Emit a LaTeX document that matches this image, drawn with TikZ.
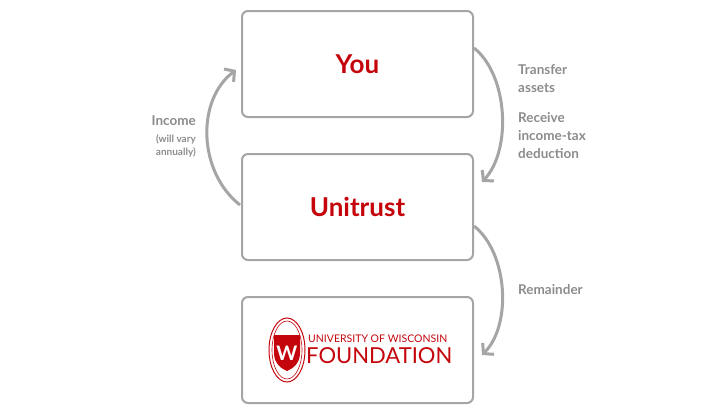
\documentclass[tikz,border=0pt]{standalone}
\usepackage{fontspec}
\setmainfont{Lato}
\usetikzlibrary{arrows.meta,shapes.geometric}
\definecolor{uwred}{HTML}{C5050C}
\definecolor{gr}{HTML}{A5A5A5}
\definecolor{lab}{HTML}{8C8C8C}
\tikzset{
 box/.style={draw=gr,line width=2pt,rounded corners=6pt,minimum width=231pt,minimum height=106pt,anchor=north west},
 conn/.style={draw=gr,line width=3pt,-{Straight Barb[length=7pt,width=16pt]}},
 lbl/.style={text=lab,font=\fontsize{13.5}{18}\selectfont\bfseries,align=left,anchor=north west,inner sep=0pt},
}
\begin{document}
\begin{tikzpicture}[x=1pt,y=-1pt]
\useasboundingbox (0,0) rectangle (718,408);
\node[box] (you) at (241,10) {};
\node[box] (uni) at (241,153) {};
\node[box] (uwf) at (241,296) {};
\node[text=uwred,font=\fontsize{26}{28}\selectfont\bfseries] (youT) at (you.center) {You};
\node[text=uwred,font=\fontsize{26}{28}\selectfont\bfseries] (uniT) at (uni.center) {Unitrust};
% logo
\node[draw=uwred,line width=1pt,ellipse,minimum width=36pt,minimum height=64pt,inner sep=0pt] (crest) at (287,350) {};
\node[draw=uwred,line width=0.6pt,ellipse,minimum width=30pt,minimum height=58pt,inner sep=0pt] (crestin) at (287,350) {};
\path[fill=uwred] (274,335) -- (300,335) -- (300,353) .. controls (300,364) and (292,369) .. (287,371) .. controls (282,369) and (274,364) .. (274,353) -- cycle;
\node[text=white,font=\fontsize{20}{20}\selectfont\bfseries\rmfamily] (w) at (287,353) {W};
\node[text=uwred,font=\fontsize{10.5}{12}\selectfont,anchor=west,inner sep=0pt] (uw1) at (308,339) {UNIVERSITY OF WISCONSIN};
\node[text=uwred,font=\fontsize{22}{24}\selectfont,anchor=west,inner sep=0pt] (uw2) at (306,356) {FOUNDATION};
% connectors
\coordinate (a1) at (474,48);
\coordinate (a2) at (482,182);
\draw[conn] (a1) .. controls (508,75) and (512,150) .. (a2);
\coordinate (b1) at (240,205);
\coordinate (b2) at (236,70);
\draw[conn] (b1) .. controls (198,172) and (196,100) .. (b2);
\coordinate (c1) at (474,226);
\coordinate (c2) at (482,355);
\draw[conn] (c1) .. controls (508,253) and (512,325) .. (c2);
% labels
\node[lbl] (t1) at (518,64) {Transfer\\assets};
\node[lbl] (t2) at (518,112) {Receive\\income-tax\\deduction};
\node[lbl] (t3) at (518,284) {Remainder};
\node[lbl,anchor=north east,align=right] (t4) at (196,116) {Income};
\node[lbl,anchor=north east,align=right,font=\fontsize{10}{13}\selectfont\bfseries] (t5) at (196,134) {(will vary\\annually)};
\end{tikzpicture}
\end{document}
